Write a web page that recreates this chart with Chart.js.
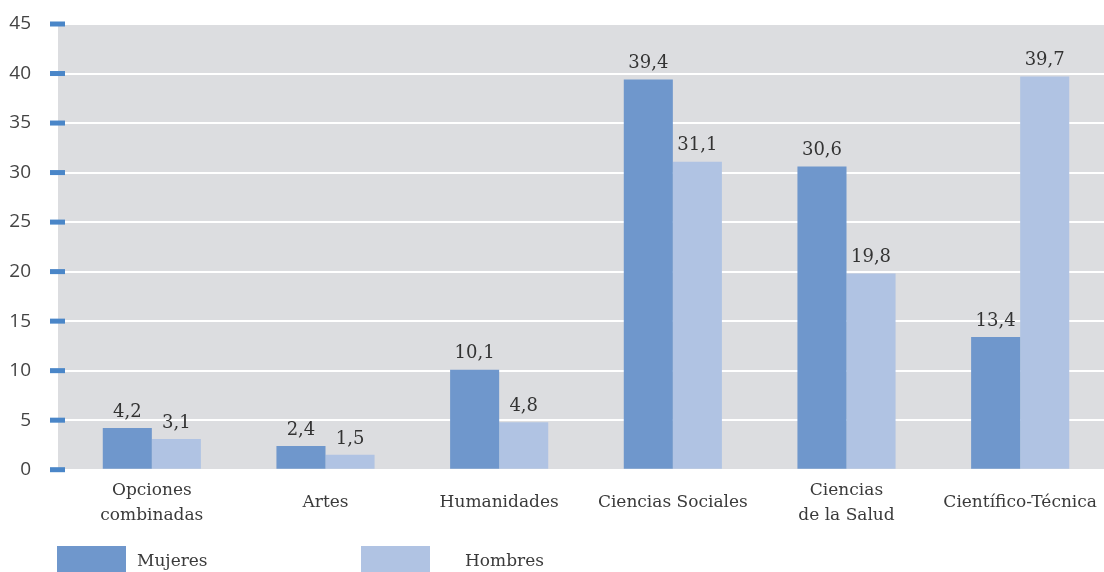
<!DOCTYPE html>
<html>
<head>
<meta charset="utf-8">
<script src="https://cdn.jsdelivr.net/npm/chart.js@4"></script>
<style>
  html, body { margin: 0; padding: 0; background: #fff; overflow: hidden; }
  #wrap { position: relative; width: 1104px; height: 572px; overflow: hidden; }
  #wrap canvas { position: absolute; left: 0; top: 0; }
  .leg { position: absolute; top: 546px; height: 26px; }
  .leg .box { position: absolute; left: 0; top: 0; width: 69px; height: 26px; }
  .leg .txt { position: absolute; top: 4px; font-family: "DejaVu Serif"; font-size: 17px; color: #3a3a3a; white-space: nowrap; }
</style>
</head>
<body>
<div id="wrap">
  <canvas id="chart" width="1112" height="572" style="width:1112px;height:572px"></canvas>
  <div class="leg" style="left:57px"><div class="box" style="background:#6f97cc"></div><div class="txt" style="left:80px">Mujeres</div></div>
  <div class="leg" style="left:361px"><div class="box" style="background:#b0c3e3"></div><div class="txt" style="left:104px">Hombres</div></div>
</div>
<script>
// data
const categories = [['Opciones', 'combinadas'], 'Artes', 'Humanidades', 'Ciencias Sociales', ['Ciencias', 'de la Salud'], 'Científico-Técnica'];
const mujeres = [4.2, 2.4, 10.1, 39.4, 30.6, 13.4];
const hombres = [3.1, 1.5, 4.8, 31.1, 19.8, 39.7];
const yTicks = [0, 5, 10, 15, 20, 25, 30, 35, 40, 45];

// grey plot background + blue tick marks on the left
const plotBackground = {
    id: 'plotBackground',
    beforeDraw(chart) {
        const ctx = chart.ctx;
        const a = chart.chartArea;
        ctx.save();
        ctx.fillStyle = '#dcdde0';
        ctx.fillRect(a.left - 7, a.top, chart.width - (a.left - 7), a.bottom - a.top);
        ctx.restore();
    },
    afterDraw(chart) {
        const ctx = chart.ctx;
        const a = chart.chartArea;
        const y = chart.scales.y;
        ctx.save();
        ctx.fillStyle = '#4a86c8';
        yTicks.forEach(function(v) {
            const py = y.getPixelForValue(v);
            ctx.fillRect(a.left - 15, py - 2.5, 15, 5);
        });
        ctx.restore();
    }
};

// value labels above bars, with decimal comma
const valueLabels = {
    id: 'valueLabels',
    afterDatasetsDraw(chart) {
        const ctx = chart.ctx;
        ctx.save();
        ctx.font = '18px "DejaVu Serif"';
        ctx.fillStyle = '#333';
        ctx.textAlign = 'center';
        ctx.textBaseline = 'middle';
        chart.data.datasets.forEach(function(ds, i) {
            chart.getDatasetMeta(i).data.forEach(function(bar, j) {
                const txt = ds.data[j].toFixed(1).replace('.', ',');
                ctx.fillText(txt, bar.x, bar.y - 16);
            });
        });
        ctx.restore();
    }
};

new Chart(document.getElementById('chart'), {
    type: 'bar',
    data: {
        labels: categories,
        datasets: [{
            label: 'Mujeres',
            data: mujeres,
            backgroundColor: '#6f97cc'
        }, {
            label: 'Hombres',
            data: hombres,
            backgroundColor: '#b0c3e3'
        }]
    },
    options: {
        responsive: false,
        animation: false,
        layout: { padding: { top: 24, left: 0, right: 5, bottom: 19 } },
        plugins: {
            legend: { display: false },
            tooltip: { enabled: false }
        },
        datasets: {
            bar: { categoryPercentage: 0.565, barPercentage: 1 }
        },
        scales: {
            x: {
                grid: { display: false },
                border: { display: false },
                ticks: {
                    color: '#3a3a3a',
                    font: { family: 'DejaVu Serif', size: 17, lineHeight: 1.45 },
                    padding: 13,
                    maxRotation: 0,
                    autoSkip: false,
                    crossAlign: 'center'
                }
            },
            y: {
                min: 0,
                max: 45,
                grid: { color: '#ffffff', lineWidth: 2, drawTicks: true, tickLength: 30, tickColor: 'rgba(0,0,0,0)' },
                border: { display: false },
                ticks: {
                    stepSize: 5,
                    color: '#444',
                    font: { family: 'Open Sans', size: 19 },
                    padding: 4
                },
                afterFit: function(scale) { scale.width = 65; }
            }
        }
    },
    plugins: [plotBackground, valueLabels]
});
</script>
</body>
</html>
